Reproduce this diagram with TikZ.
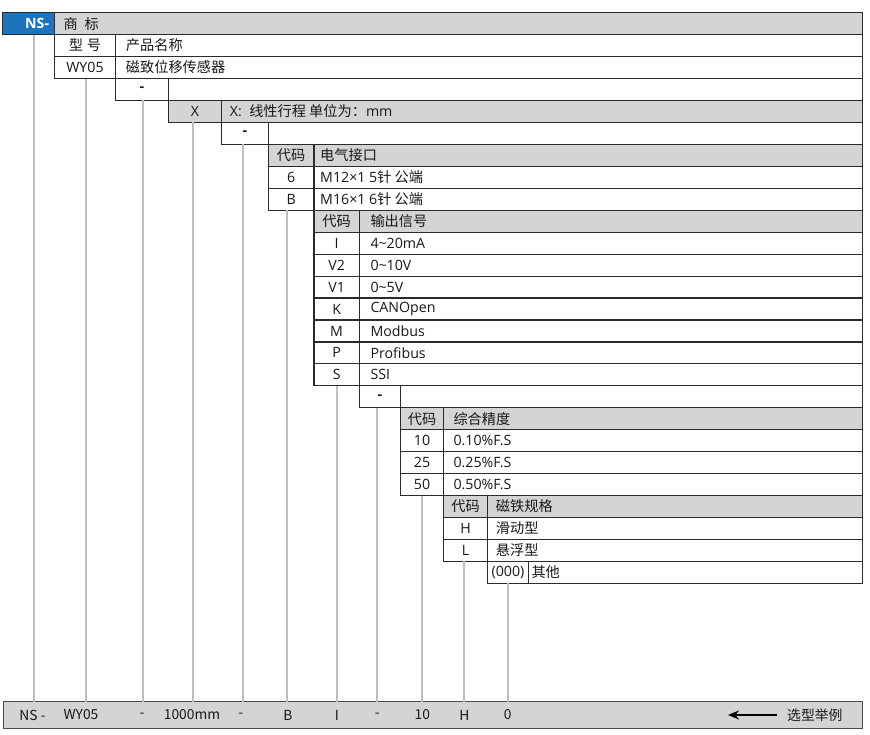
\documentclass[tikz,border=0pt]{standalone}
\usepackage{fontspec}
\setmainfont{Open Sans}
\newfontfamily\cjk{Noto Sans CJK SC}
\usetikzlibrary{calc,arrows.meta}
\definecolor{hdr}{HTML}{D3D4D6}
\definecolor{nsblue}{HTML}{1C75BC}
\definecolor{bd}{HTML}{2E2A2B}
\definecolor{connc}{HTML}{BEBEBE}
\definecolor{txt}{HTML}{1A1718}
\newcommand\tabrow[8]{%
  \pgfmathsetmacro\ty{12.7+21.95*#4}%
  \node[cell, fill=#5, minimum width={#3pt-#2pt}] (#1a) at (#2,\ty) {#6};
  \node[cell, fill=#5, minimum width={862.7pt-#3pt}] (#1b) at (#3,\ty) {};
  \node[lbl] (#1t) at ($(#1b.west)+(#8,0)$) {#7};
}
\newcommand\zh[1]{{\cjk #1}}
\begin{document}
\begin{tikzpicture}[x=1pt,y=-1pt,
  cell/.style={draw=bd, line width=1.1pt, inner sep=0pt, outer sep=0pt, anchor=north west,
    minimum height=21.95pt, text=txt, font=\fontsize{14.2}{16}\selectfont},
  lbl/.style={anchor=west, inner sep=0pt, text=txt, font=\fontsize{14.2}{16}\selectfont},
  conn/.style={draw=connc, line width=1.8pt},
  btxt/.style={inner sep=0pt, text=txt, font=\fontsize{13.8}{15}\selectfont}]
\useasboundingbox (0,0) rectangle (870,735);

\coordinate (x1) at (34.3,0);
\coordinate (x2) at (86,0);
\coordinate (x3) at (143.3,0);
\coordinate (x4) at (193.3,0);
\coordinate (x5) at (243.3,0);
\coordinate (x6) at (287.3,0);
\coordinate (x7) at (336.7,0);
\coordinate (x8) at (377.3,0);
\coordinate (x9) at (422.3,0);
\coordinate (x10) at (464.3,0);
\coordinate (x11) at (507.7,0);

% bottom box
\node[cell, fill=hdr, draw=bd!85, minimum width=859.4pt, minimum height=26.6pt] (bot) at (3.3,701.7) {};

% top rows
\node[cell, fill=nsblue, minimum width=51.6pt] (ns) at (2.7,12.7) {};
\node[anchor=east, inner sep=0pt, text=white, font=\fontsize{14.2}{16}\selectfont\bfseries] (nst) at ($(ns.east)+(-5,0)$) {NS-};
\node[cell, fill=hdr, minimum width=808.4pt] (brand) at (54.3,12.7) {};
\node[lbl] (brandt) at ($(brand.west)+(9,0)$) {\zh{商\hspace{7pt}标}};

\tabrow{r1}{54.3}{115.7}{1}{white}{\zh{型\hspace{4pt}号}}{\zh{产品名称}}{10}
\tabrow{r2}{54.3}{115.7}{2}{white}{WY05}{\zh{磁致位移传感器}}{10}
\tabrow{r3}{115.7}{168.3}{3}{white}{\textbf{-}}{}{0}
\tabrow{r4}{168.3}{221.7}{4}{hdr}{X}{X:\ \ \zh{线性行程 单位为：}mm}{8}
\tabrow{r5}{221.7}{268.3}{5}{white}{\textbf{-}}{}{0}
\tabrow{r6}{268.3}{314}{6}{hdr}{\zh{代码}}{\zh{电气接口}}{6}
\tabrow{r7}{268.3}{314}{7}{white}{6}{M12×1 5\zh{针 公端}}{6}
\tabrow{r8}{268.3}{314}{8}{white}{B}{M16×1 6\zh{针 公端}}{6}
\tabrow{r9}{314}{359.3}{9}{hdr}{\zh{代码}}{\zh{输出信号}}{11}
\tabrow{r10}{314}{359.3}{10}{white}{I}{4\textasciitilde20mA}{11}
\tabrow{r11}{314}{359.3}{11}{white}{V2}{0\textasciitilde10V}{11}
\tabrow{r12}{314}{359.3}{12}{white}{V1}{0\textasciitilde5V}{11}
\tabrow{r13}{314}{359.3}{13}{white}{K}{CANOpen}{11}
\tabrow{r14}{314}{359.3}{14}{white}{M}{Modbus}{11}
\tabrow{r15}{314}{359.3}{15}{white}{P}{Profibus}{11}
\tabrow{r16}{314}{359.3}{16}{white}{S}{SSI}{11}
\tabrow{r17}{359.3}{400.7}{17}{white}{\textbf{-}}{}{0}
\tabrow{r18}{400.7}{443.3}{18}{hdr}{\zh{代码}}{\zh{综合精度}}{10}
\tabrow{r19}{400.7}{443.3}{19}{white}{10}{0.10\%F.S}{10}
\tabrow{r20}{400.7}{443.3}{20}{white}{25}{0.25\%F.S}{10}
\tabrow{r21}{400.7}{443.3}{21}{white}{50}{0.50\%F.S}{10}
\tabrow{r22}{443.3}{487.7}{22}{hdr}{\zh{代码}}{\zh{磁铁规格}}{8}
\tabrow{r23}{443.3}{487.7}{23}{white}{H}{\zh{滑动型}}{8}
\tabrow{r24}{443.3}{487.7}{24}{white}{L}{\zh{悬浮型}}{8}
\tabrow{r25}{487.7}{528.3}{25}{white}{(000)}{\zh{其他}}{3}

% connectors
\draw[conn] (ns.south -| x1) -- (bot.north -| x1);
\draw[conn] (r2a.south -| x2) -- (bot.north -| x2);
\draw[conn] (r3a.south -| x3) -- (bot.north -| x3);
\draw[conn] (r4a.south -| x4) -- (bot.north -| x4);
\draw[conn] (r5a.south -| x5) -- (bot.north -| x5);
\draw[conn] (r8a.south -| x6) -- (bot.north -| x6);
\draw[conn] (r16a.south -| x7) -- (bot.north -| x7);
\draw[conn] (r17a.south -| x8) -- (bot.north -| x8);
\draw[conn] (r21a.south -| x9) -- (bot.north -| x9);
\draw[conn] (r24a.south -| x10) -- (bot.north -| x10);
\draw[conn] (r25a.south -| x11) -- (bot.north -| x11);

% bottom texts
\node[btxt] (b1) at (32.5,715) {\zh{NS -}};
\node[btxt] (b2) at (81,715) {\zh{WY05}};
\node[btxt] (b3) at (142,715) {\zh{-}};
\node[btxt] (b4) at (192,715) {\zh{1000mm}};
\node[btxt] (b5) at (240.7,715) {\zh{-}};
\node[btxt] (b6) at (288,715) {\zh{B}};
\node[btxt] (b7) at (337,715) {\zh{I}};
\node[btxt] (b8) at (377.3,715) {\zh{-}};
\node[btxt] (b9) at (422.3,715) {\zh{10}};
\node[btxt] (b10) at (464.3,715) {\zh{H}};
\node[btxt] (b11) at (507.7,715) {\zh{0}};
\node[btxt, anchor=west] (sel) at (787,715) {\zh{选型举例}};
\coordinate (ah) at (728,715);
\draw[line width=1.8pt, draw=black, -{Stealth[length=11pt,width=9pt]}, shorten <=10pt] (sel.west) -- (ah);
\end{tikzpicture}
\end{document}
